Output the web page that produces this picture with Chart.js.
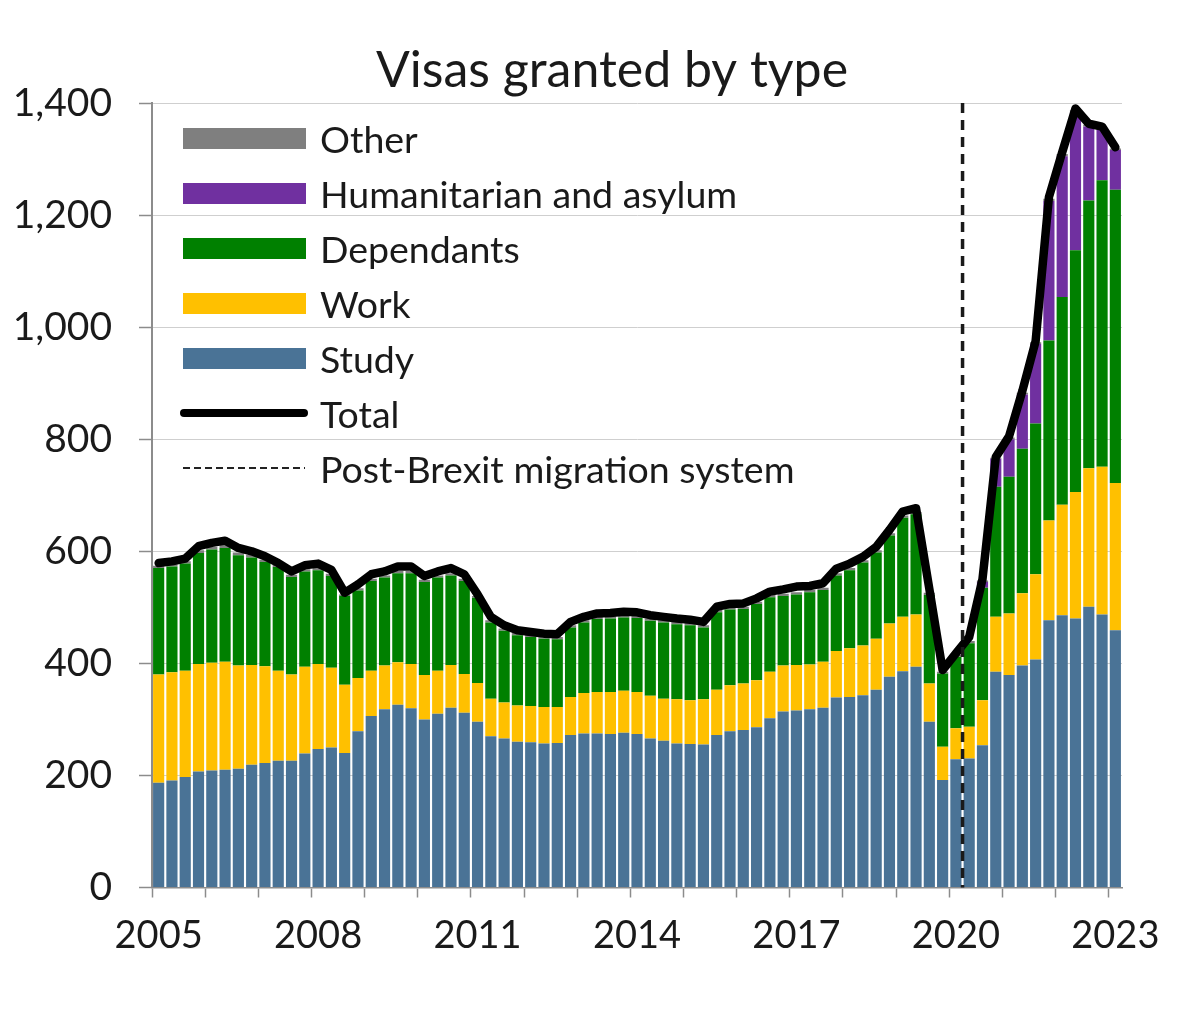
<!DOCTYPE html>
<html>
<head>
<meta charset="utf-8">
<script src="https://cdn.jsdelivr.net/npm/chart.js@4.4.1/dist/chart.umd.min.js"></script>
<style>
  html, body { margin: 0; padding: 0; background: #fff; }
  #wrap { position: relative; width: 1200px; height: 1035px; }
  #legend { position: absolute; left: 0; top: 0; width: 0; height: 0; font-family: Lato, sans-serif; font-size: 37.5px; color: #1a1a1a; }
  .row { position: absolute; left: 180px; height: 44px; display: flex; align-items: center; white-space: nowrap; }
  .sw { width: 123px; height: 21px; margin-left: 3px; margin-right: 14px; }
  .tot { width: 128px; height: 8px; border-radius: 4px; background: #000; margin-right: 12px; }
  .dash { width: 122px; height: 2.5px; margin-left: 3px; margin-right: 15px;
          background: repeating-linear-gradient(to right, #222 0 7px, transparent 7px 11px); }
</style>
</head>
<body>
<div id="wrap">
  <canvas id="c"></canvas>
  <div id="legend"></div>
</div>
<script>
// ---------------- DATA (thousands of visas granted) ----------------
const categories = [
 '2005 Q1','2005 Q2','2005 Q3','2005 Q4','2006 Q1','2006 Q2','2006 Q3','2006 Q4',
 '2007 Q1','2007 Q2','2007 Q3','2007 Q4','2008 Q1','2008 Q2','2008 Q3','2008 Q4',
 '2009 Q1','2009 Q2','2009 Q3','2009 Q4','2010 Q1','2010 Q2','2010 Q3','2010 Q4',
 '2011 Q1','2011 Q2','2011 Q3','2011 Q4','2012 Q1','2012 Q2','2012 Q3','2012 Q4',
 '2013 Q1','2013 Q2','2013 Q3','2013 Q4','2014 Q1','2014 Q2','2014 Q3','2014 Q4',
 '2015 Q1','2015 Q2','2015 Q3','2015 Q4','2016 Q1','2016 Q2','2016 Q3','2016 Q4',
 '2017 Q1','2017 Q2','2017 Q3','2017 Q4','2018 Q1','2018 Q2','2018 Q3','2018 Q4',
 '2019 Q1','2019 Q2','2019 Q3','2019 Q4','2020 Q1','2020 Q2','2020 Q3','2020 Q4',
 '2021 Q1','2021 Q2','2021 Q3','2021 Q4','2022 Q1','2022 Q2','2022 Q3','2022 Q4',
 '2023 Q1'
];
const yearTicks = ['2005','2008','2011','2014','2017','2020','2023'];
const yTicks = [0, 200, 400, 600, 800, 1000, 1200, 1400];

const study = [187,191,197,207,209,210,212,219,222,226,226,239,247,250,240,279,306,318,326,320,300,310,321,312,296,
  270,266,260,259,257,258,272,275,275,274,276,274,266,262,257,256,255,272,279,281,286,302,314,316,
  318,321,339,340,343,353,376,386,394,296,192,229,230,254,
  385,379,396,407,477,486,480,501,487,459];
const work = [193,193,190,192,192,193,184,178,173,161,154,155,152,142,122,95,81,78,76,79,79,77,76,69,69,
  67,64,65,65,65,64,68,72,74,75,75,75,76,75,79,78,81,81,82,83,84,83,82,81,
  80,82,83,87,89,91,95,97,93,68,59,55,57,80,
  98,110,129,152,178,197,226,247,264,263];
const dependants = [190,189,191,198,202,203,197,192,186,185,174,170,167,164,158,156,160,157,159,162,166,166,160,166,152,
  136,128,125,123,122,121,124,126,130,131,131,132,134,136,134,134,128,138,135,133,136,133,124,126,
  129,128,135,139,148,154,157,177,179,158,131,128,149,201,
  232,244,258,269,321,371,431,478,511,523];
const humanitarian = [0,0,0,0,0,0,0,0,0,0,0,0,0,0,0,0,0,0,0,0,0,0,0,0,0,
  0,0,0,0,0,0,0,0,0,0,0,0,0,0,0,0,0,0,0,0,0,0,0,0,
  0,0,0,0,0,0,0,0,0,0,0,0,0,10,
  50,67,97,142,249,251,246,132,90,71];
const other = [4,4,4,5,5,5,5,5,4,4,4,4,4,4,3,4,4,4,4,4,4,4,4,4,3,
  4,4,4,4,4,4,4,4,4,4,4,4,4,4,4,4,4,4,4,4,4,4,4,4,
  4,4,4,4,4,4,4,4,4,4,3,3,4,3,
  2,3,3,3,4,4,4,3,3,3];
const total = [579,582,587,609,615,619,606,600,591,579,564,575,578,567,526,541,559,564,573,573,556,564,570,559,523,
  483,468,459,456,453,452,474,483,489,490,492,491,486,483,480,478,474,501,506,507,516,528,532,537,
  538,543,569,578,590,608,638,671,677,533,388,418,447,550,
  768,805,886,975,1232,1312,1390,1363,1358,1321];
const brexitBetween = ['2020 Q1', '2020 Q2'];

// ---------------- STYLE ----------------
const FONT = 'Lato, "Noto Sans", sans-serif';
const colors = { other: '#7f7f7f', hum: '#7030a0', dep: '#008000', work: '#ffc000', study: '#4a7396', total: '#000000' };

const legendItems = [
  { label: 'Other', type: 'sw', color: colors.other },
  { label: 'Humanitarian and asylum', type: 'sw', color: colors.hum },
  { label: 'Dependants', type: 'sw', color: colors.dep },
  { label: 'Work', type: 'sw', color: colors.work },
  { label: 'Study', type: 'sw', color: colors.study },
  { label: 'Total', type: 'tot' },
  { label: 'Post-Brexit migration system', type: 'dash' }
];
const leg = document.getElementById('legend');
legendItems.forEach((it, k) => {
  const row = document.createElement('div');
  row.className = 'row';
  row.style.top = (138 + 55 * k - 22) + 'px';
  const m = document.createElement('div');
  m.className = it.type;
  if (it.color) m.style.background = it.color;
  row.appendChild(m);
  const t = document.createElement('span');
  t.textContent = it.label;
  row.appendChild(t);
  leg.appendChild(row);
});

const titlePlugin = {
  id: 'titleText',
  afterDraw(chart) {
    const ctx = chart.ctx;
    ctx.save();
    ctx.font = '50px ' + FONT;
    ctx.fillStyle = '#1a1a1a';
    ctx.textAlign = 'center';
    ctx.textBaseline = 'alphabetic';
    ctx.fillText('Visas granted by type', 612, 87);
    ctx.restore();
  }
};
const brexitPlugin = {
  id: 'brexitLine',
  afterDatasetsDraw(chart) {
    const xs = chart.scales.x, a = chart.chartArea, ctx = chart.ctx;
    const i0 = categories.indexOf(brexitBetween[0]), i1 = categories.indexOf(brexitBetween[1]);
    const x = (xs.getPixelForValue(i0) + xs.getPixelForValue(i1)) / 2;
    ctx.save();
    ctx.strokeStyle = '#1a1a1a';
    ctx.lineWidth = 3.5;
    ctx.setLineDash([10, 7]);
    ctx.beginPath();
    ctx.moveTo(x, a.top);
    ctx.lineTo(x, a.bottom);
    ctx.stroke();
    ctx.restore();
  }
};

const barDs = (label, data, color) => ({
  type: 'bar', label, data, backgroundColor: color, borderWidth: 0,
  barPercentage: 0.84, categoryPercentage: 1.0, stack: 'visas', order: 2
});

new Chart(document.getElementById('c'), {
  data: {
    labels: categories,
    datasets: [
      barDs('Study', study, colors.study),
      barDs('Work', work, colors.work),
      barDs('Dependants', dependants, colors.dep),
      barDs('Humanitarian and asylum', humanitarian, colors.hum),
      barDs('Other', other, colors.other),
      { type: 'line', label: 'Total', data: total, borderColor: colors.total, borderWidth: 8.5,
        pointRadius: 0, tension: 0, fill: false, stack: 'total', order: 0,
        borderJoinStyle: 'round', borderCapStyle: 'round' }
    ]
  },
  options: {
    responsive: true, maintainAspectRatio: false, animation: false,
    layout: { padding: { top: 103, right: 78, bottom: 0, left: 0 } },
    plugins: { legend: { display: false }, tooltip: { enabled: false }, title: { display: false } },
    scales: {
      x: {
        stacked: true,
        offset: true,
        afterFit(s) { s.height = 147.5; },
        grid: {
          offset: true, drawOnChartArea: false, drawTicks: true, tickLength: 10,
          tickColor: (c) => (c.index % 4 === 0 ? '#8c8c8c' : 'rgba(0,0,0,0)'), tickWidth: 1.5
        },
        border: { display: true, color: '#8c8c8c', width: 1.5 },
        ticks: {
          autoSkip: false, maxRotation: 0, minRotation: 0, padding: 15,
          color: '#1a1a1a', font: { family: FONT, size: 38 },
          callback: (v, i) => {
            const lab = categories[i];
            const yr = lab.slice(0, 4);
            return (lab.endsWith('Q1') && yearTicks.includes(yr)) ? yr : '';
          }
        }
      },
      y: {
        stacked: true, min: yTicks[0], max: yTicks[yTicks.length - 1],
        afterFit(s) { s.width = 152; },
        afterBuildTicks(s) { s.ticks = yTicks.map(v => ({ value: v })); },
        grid: {
          color: '#cfcfcf', lineWidth: 1, borderDash: [3, 2],
          drawTicks: true, tickLength: 13, tickColor: '#8c8c8c', tickBorderDash: [], tickWidth: 1.5
        },
        border: { display: true, color: '#8c8c8c', width: 2 },
        ticks: {
          padding: 27, color: '#1a1a1a', font: { family: FONT, size: 39 },
          callback: (v) => v.toLocaleString('en-US')
        }
      }
    }
  },
  plugins: [titlePlugin, brexitPlugin]
});
</script>
</body>
</html>
